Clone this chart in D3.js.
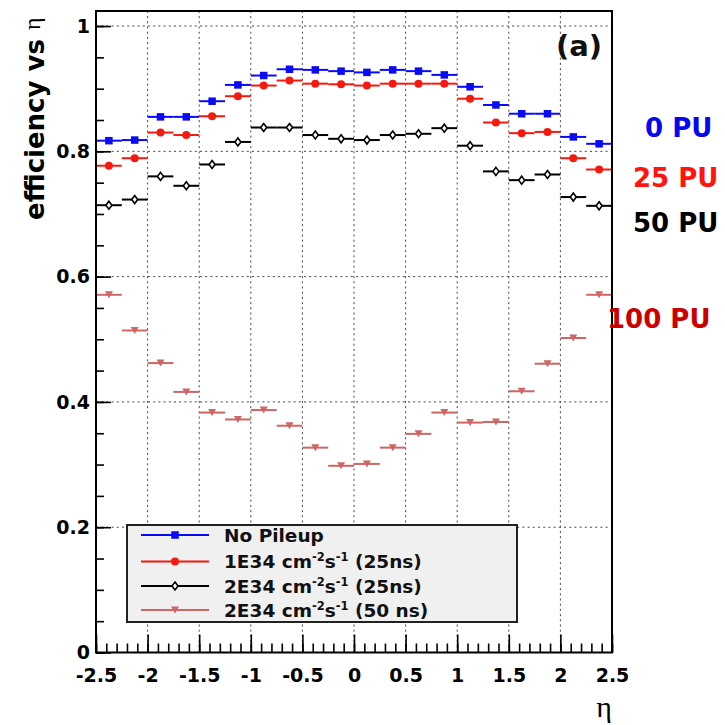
<!DOCTYPE html>
<html>
<head>
<meta charset="utf-8">
<script src="https://cdn.jsdelivr.net/npm/d3@7"></script>
<style>
  html, body { margin: 0; padding: 0; background: #fff; }
  svg { display: block; }
</style>
</head>
<body>
<svg id="chart" width="725" height="725" font-family="DejaVu Sans" font-weight="bold"></svg>
<script>
// ---------------- data ----------------
const etaBins = [-2.375, -2.125, -1.875, -1.625, -1.375, -1.125, -0.875, -0.625, -0.375, -0.125,
                 0.125, 0.375, 0.625, 0.875, 1.125, 1.375, 1.625, 1.875, 2.125, 2.375];
const binHalfWidth = 0.125;

const noPileup = [0.817, 0.818, 0.855, 0.855, 0.880, 0.906, 0.921, 0.931, 0.930, 0.928,
                  0.926, 0.930, 0.928, 0.922, 0.903, 0.874, 0.860, 0.860, 0.823, 0.812];
const pu25 = [0.777, 0.789, 0.830, 0.826, 0.856, 0.888, 0.905, 0.913, 0.908, 0.907,
              0.905, 0.908, 0.908, 0.908, 0.884, 0.846, 0.829, 0.831, 0.789, 0.771];
const pu50 = [0.714, 0.723, 0.760, 0.745, 0.779, 0.815, 0.838, 0.838, 0.826, 0.820,
              0.818, 0.826, 0.828, 0.837, 0.809, 0.768, 0.754, 0.763, 0.727, 0.713];
const pu100 = [0.571, 0.514, 0.462, 0.416, 0.383, 0.372, 0.387, 0.362, 0.327, 0.298,
               0.301, 0.327, 0.349, 0.383, 0.367, 0.368, 0.417, 0.461, 0.502, 0.571];

const seriesNames = ["No Pileup", "1E34", "2E34 (25ns)", "2E34 (50ns)"];
const seriesColors = ["#0a0af5", "#f51a10", "#000000", "#cf6565"];
const seriesMarkers = ["square", "circle", "diamond", "triangleDown"];

const xTickValues = [-2.5, -2, -1.5, -1, -0.5, 0, 0.5, 1, 1.5, 2, 2.5];
const xTickLabels = ["-2.5", "-2", "-1.5", "-1", "-0.5", "0", "0.5", "1", "1.5", "2", "2.5"];
const xMinorTicks = d3.range(-25, 26).map(d => d / 10);
const yTickValues = [0, 0.2, 0.4, 0.6, 0.8, 1];
const yTickLabels = ["0", "0.2", "0.4", "0.6", "0.8", "1"];
const yMinorTicks = d3.range(0, 21).map(d => d / 20);

const puLabels = ["0 PU", "25 PU", "50 PU", "100 PU"];
const puLabelColors = ["#0808f0", "#ff1410", "#000000", "#cc0000"];

// ---------------- layout ----------------
const svg = d3.select("#chart");
const X0 = 96, X1 = 612, Y0 = 652.5, Y1 = 11;
const x = d3.scaleLinear().domain([-2.5, 2.5]).range([X0, X1]);
const y = d3.scaleLinear().domain([0, 1.024]).range([Y0, Y1]);

// grid
const grid = svg.append("g").attr("stroke", "#444").attr("stroke-width", 1)
  .attr("stroke-dasharray", "2,3.2");
grid.selectAll(".gx").data(xTickValues.slice(1, -1)).join("line")
  .attr("x1", d => x(d)).attr("x2", d => x(d)).attr("y1", Y0).attr("y2", Y1);
grid.selectAll(".gy").data(yTickValues.slice(1)).join("line")
  .attr("x1", X0).attr("x2", X1).attr("y1", d => y(d)).attr("y2", d => y(d));

// axes (ticks inward)
const yAxis = d3.axisLeft(y).tickValues(yTickValues).tickSizeInner(-15).tickSizeOuter(0)
  .tickPadding(6).tickFormat((d, i) => yTickLabels[i]);
const yMinor = d3.axisLeft(y).tickValues(yMinorTicks).tickSizeInner(-8).tickSizeOuter(0).tickFormat("");
const xAxis = d3.axisBottom(x).tickValues(xTickValues).tickSizeInner(-18).tickSizeOuter(0)
  .tickPadding(16).tickFormat((d, i) => xTickLabels[i]);
const xMinor = d3.axisBottom(x).tickValues(xMinorTicks).tickSizeInner(-9).tickSizeOuter(0).tickFormat("");

function styleAxis(g) {
  g.select(".domain").remove();
  g.selectAll("line").attr("stroke", "#000").attr("stroke-width", 1.6);
  g.selectAll("text").attr("font-family", "DejaVu Sans").attr("font-weight", "bold")
    .attr("font-size", 19).attr("fill", "#000");
}
svg.append("g").attr("transform", `translate(${X0},0)`).call(yMinor).call(styleAxis);
svg.append("g").attr("transform", `translate(${X0},0)`).call(yAxis).call(styleAxis);
svg.append("g").attr("transform", `translate(0,${Y0})`).call(xMinor).call(styleAxis);
svg.append("g").attr("transform", `translate(0,${Y0})`).call(xAxis).call(styleAxis);

// marker drawing
function drawMarker(g, type, color, cx, cy) {
  if (type === "square") {
    const s = 7.5;
    g.append("rect").attr("x", cx - s / 2).attr("y", cy - s / 2).attr("width", s).attr("height", s)
      .attr("fill", color);
  } else if (type === "circle") {
    g.append("circle").attr("cx", cx).attr("cy", cy).attr("r", 4).attr("fill", color);
  } else if (type === "diamond") {
    const w = 3, h = 4;
    g.append("path").attr("d", `M${cx},${cy - h}L${cx + w},${cy}L${cx},${cy + h}L${cx - w},${cy}Z`)
      .attr("fill", "#fff").attr("stroke", color).attr("stroke-width", 1.6);
  } else if (type === "triangleDown") {
    const w = 4, h = 3.5;
    g.append("path").attr("d", `M${cx - w},${cy - h}L${cx + w},${cy - h}L${cx},${cy + h}Z`)
      .attr("fill", color);
  }
}

// data series
const allSeries = [noPileup, pu25, pu50, pu100];
allSeries.forEach((vals, si) => {
  const g = svg.append("g");
  const color = seriesColors[si];
  etaBins.forEach((eta, i) => {
    g.append("line")
      .attr("x1", x(eta - binHalfWidth)).attr("x2", x(eta + binHalfWidth))
      .attr("y1", y(vals[i])).attr("y2", y(vals[i]))
      .attr("stroke", color).attr("stroke-width", 2);
    drawMarker(g, seriesMarkers[si], color, x(eta), y(vals[i]));
  });
});

// frame
svg.append("rect").attr("x", X0).attr("y", Y1).attr("width", X1 - X0).attr("height", Y0 - Y1)
  .attr("fill", "none").attr("stroke", "#000").attr("stroke-width", 2);

// legend
const leg = svg.append("g");
leg.append("rect").attr("x", 127).attr("y", 525).attr("width", 390).attr("height", 97)
  .attr("fill", "#f0f0f0").attr("stroke", "#222").attr("stroke-width", 2);
const legRows = [535, 561.5, 586, 610];
const legendTexts = [
  [{t: "No Pileup"}],
  [{t: "1E34 cm"}, {t: "-2", sup: true}, {t: "s"}, {t: "-1", sup: true}, {t: " (25ns)"}],
  [{t: "2E34 cm"}, {t: "-2", sup: true}, {t: "s"}, {t: "-1", sup: true}, {t: " (25ns)"}],
  [{t: "2E34 cm"}, {t: "-2", sup: true}, {t: "s"}, {t: "-1", sup: true}, {t: " (50 ns)"}]
];
legRows.forEach((ry, i) => {
  leg.append("line").attr("x1", 141).attr("x2", 209).attr("y1", ry).attr("y2", ry)
    .attr("stroke", seriesColors[i]).attr("stroke-width", 2);
  drawMarker(leg, seriesMarkers[i], seriesColors[i], 175, ry);
  const t = leg.append("text").attr("x", 224).attr("y", ry + 6.5).attr("font-size", 18.5).attr("fill", "#111");
  let raised = false;
  legendTexts[i].forEach(part => {
    const ts = t.append("tspan").text(part.t);
    if (part.sup) { ts.attr("dy", raised ? 0 : -7).attr("font-size", 11.5); raised = true; }
    else if (raised) { ts.attr("dy", 7); raised = false; }
  });
});

// "(a)"
svg.append("text").attr("x", 556).attr("y", 56).attr("font-size", 29).attr("fill", "#111").text("(a)");

// PU labels on right
const puPos = [[645, 137], [633, 186.5], [633, 231.5], [607, 328]];
puLabels.forEach((lab, i) => {
  svg.append("text").attr("x", puPos[i][0]).attr("y", puPos[i][1]).attr("font-size", 26)
    .attr("fill", puLabelColors[i]).text(lab);
});

// y axis title
const yt = svg.append("text").attr("transform", "translate(44,220) rotate(-90)")
  .attr("font-size", 26).attr("fill", "#000");
yt.append("tspan").text("efficiency vs ");
yt.append("tspan").attr("font-family", "Liberation Serif").attr("font-weight", "normal")
  .attr("font-size", 24).attr("dy", -4).text("η");

// x axis title
svg.append("text").attr("x", 612).attr("y", 717).attr("text-anchor", "end")
  .attr("font-family", "Liberation Serif").attr("font-weight", "normal").attr("font-size", 30)
  .attr("fill", "#000").text("η");
</script>
</body>
</html>
